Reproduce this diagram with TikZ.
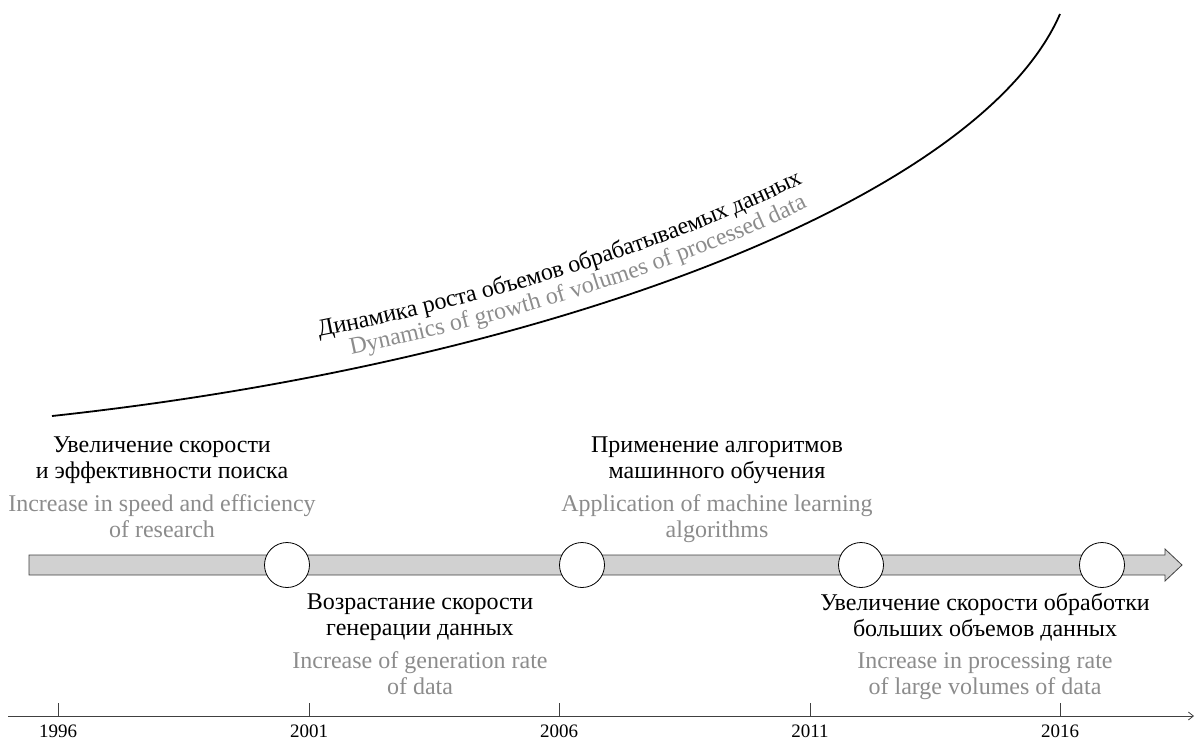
\documentclass[tikz,border=0pt]{standalone}
\usepackage{fontspec}
\setmainfont{Liberation Serif}
\usepackage{tikz}
\usetikzlibrary{positioning, decorations.text, arrows.meta}
\tikzset{ru/.style={font=\fontsize{24}{26}\selectfont, align=center, inner sep=0pt},
    en/.style={ru, text=black!45},
    milestone/.style={draw, circle, fill=white, minimum size=45pt, inner sep=0pt, line width=0.8pt},
    yearlbl/.style={font=\fontsize{19}{19}\selectfont, anchor=base, inner sep=0pt},
    axisline/.style={draw=black!75, line width=0.8pt}}

\begin{document}
\begin{tikzpicture}[x=1pt, y=-1pt]
    \useasboundingbox (0,0) rectangle (1197,740);
    % growth curve with its two titles
    \coordinate (g0) at (52,416);
    \coordinate (g1) at (1060,14);
    \draw[line width=1.8pt,
        postaction={decorate, decoration={text along path, raise=38pt,
            text align={left indent=278pt},
            text={|\fontsize{24}{26}\selectfont|Динамика роста объемов обрабатываемых данных}}},
        postaction={decorate, decoration={text along path, raise=14pt,
            text align={left indent=306pt},
            text={|\fontsize{24}{26}\selectfont\color{black!45}|Dynamics of growth of volumes of processed data}}}]
        (g0) .. controls (552,362) and (980,198) .. (g1);
    % time band
    \filldraw[fill=black!18, draw=black!75, line width=0.8pt] (29,555) -- (1165,555) -- (1165,549)
        -- (1182,565) -- (1165,581) -- (1165,575) -- (29,575) -- cycle;
    \node[milestone] (m1) at (287,565) {};
    \node[milestone] (m2) at (582,565) {};
    \node[milestone] (m3) at (861,565) {};
    \node[milestone] (m4) at (1102,565) {};
    % stages
    \node[ru, anchor=north] (speed) at (162,436.5) {Увеличение скорости\\и эффективности поиска};
    \node[en, below=11pt of speed] (speeden) {Increase in speed and efficiency\\of research};
    \node[ru, anchor=north] (rate) at (420,593.5) {Возрастание скорости\\генерации данных};
    \node[en, below=11pt of rate] (rateen) {Increase of generation rate\\of data};
    \node[ru, anchor=north] (ml) at (717,436.5) {Применение алгоритмов\\машинного обучения};
    \node[en, below=11pt of ml] (mlen) {Application of machine learning\\algorithms};
    \node[ru, anchor=north] (bigdata) at (985,593.5) {Увеличение скорости обработки\\больших объемов данных};
    \node[en, below=11pt of bigdata] (bigdataen) {Increase in processing rate\\of large volumes of data};
    % years axis
    \coordinate (axl) at (8,716);
    \coordinate (axr) at (1194,716);
    \draw[axisline, -{Straight Barb[length=5pt, width=8pt]}] (axl) -- (axr);
    \foreach \yr/\x in {1996/58, 2001/309, 2006/559, 2011/810, 2016/1060} {
        \coordinate (t\yr) at (\x,716);
        \draw[axisline] (t\yr) -- ++(0,-13);
        \node[yearlbl] (y\yr) at (\x,737) {\yr};
    }
\end{tikzpicture}
\end{document}
